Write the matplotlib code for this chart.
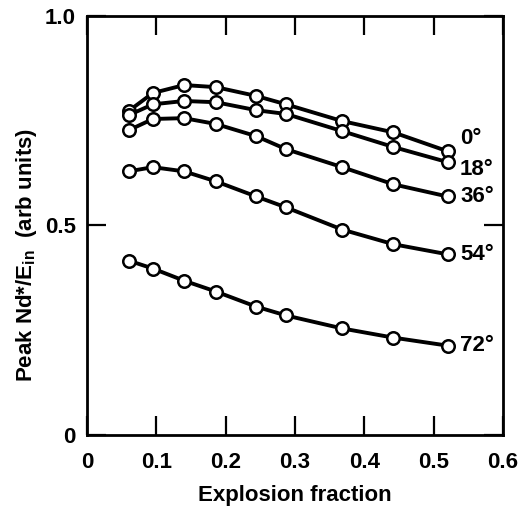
""" Peak Nd* / E_in versus explosion fraction for several angles. """

import matplotlib
matplotlib.use("Agg")
import matplotlib.pyplot as plt

# explosion fraction values (same for every curve)
explosion_fraction = [0.06, 0.095, 0.14, 0.186, 0.244, 0.287, 0.368, 0.442, 0.52]

# peak Nd*/E_in, one list per angle
peak_0 = [0.773, 0.816, 0.835, 0.830, 0.809, 0.789, 0.749, 0.722, 0.677]
peak_18 = [0.763, 0.789, 0.797, 0.794, 0.775, 0.766, 0.725, 0.687, 0.651]
peak_36 = [0.727, 0.754, 0.756, 0.742, 0.713, 0.682, 0.639, 0.598, 0.569]
peak_54 = [0.629, 0.639, 0.629, 0.605, 0.569, 0.543, 0.490, 0.455, 0.431]
peak_72 = [0.416, 0.397, 0.368, 0.342, 0.306, 0.285, 0.254, 0.232, 0.213]

angle_labels = ["0°", "18°", "36°", "54°", "72°"]
label_offsets = [0.03, -0.017, 0.0, 0.0, 0.0]  # nudge so 0 and 18 don't overlap

x_ticks = [0, 0.1, 0.2, 0.3, 0.4, 0.5, 0.6]
x_tick_labels = ["0", "0.1", "0.2", "0.3", "0.4", "0.5", "0.6"]
y_ticks = [0, 0.5, 1.0]
y_tick_labels = ["0", "0.5", "1.0"]


def main():
    plt.rcParams["font.family"] = "Liberation Sans"
    plt.rcParams["font.weight"] = "bold"
    plt.rcParams["mathtext.fontset"] = "custom"
    plt.rcParams["mathtext.rm"] = "Liberation Sans:bold"
    plt.rcParams["mathtext.bf"] = "Liberation Sans:bold"

    fig = plt.figure(figsize=(5.21, 5.14), dpi=100)
    ax = fig.add_axes([0.167, 0.154, 0.7985, 0.815])

    series = [peak_0, peak_18, peak_36, peak_54, peak_72]
    for values, label, offset in zip(series, angle_labels, label_offsets):
        ax.plot(explosion_fraction, values, color="black", linewidth=2.8,
                marker="o", markersize=9, markerfacecolor="white",
                markeredgecolor="black", markeredgewidth=1.8)
        ax.text(explosion_fraction[-1] + 0.018, values[-1] + offset, label,
                fontsize=16, fontweight="bold", ha="left", va="center")

    ax.set_xlim(0, 0.6)
    ax.set_ylim(0, 1.0)
    ax.set_xticks(x_ticks)
    ax.set_xticklabels(x_tick_labels)
    ax.set_yticks(y_ticks)
    ax.set_yticklabels(y_tick_labels)
    ax.tick_params(axis="both", direction="in", top=True, right=True,
                   length=14, width=1.6, labelsize=16)
    ax.tick_params(axis="x", pad=12)
    ax.tick_params(axis="y", pad=8)
    for spine in ax.spines.values():
        spine.set_linewidth(2)

    ax.set_xlabel("Explosion fraction", fontsize=16, fontweight="bold", labelpad=9)
    ax.set_ylabel(r"Peak Nd*/E$_{\mathbf{in}}$  (arb units)", fontsize=16,
                  fontweight="bold")
    ax.yaxis.set_label_coords(-0.115, 0.43)

    fig.savefig("out.png", dpi=100)


if __name__ == "__main__":
    main()
